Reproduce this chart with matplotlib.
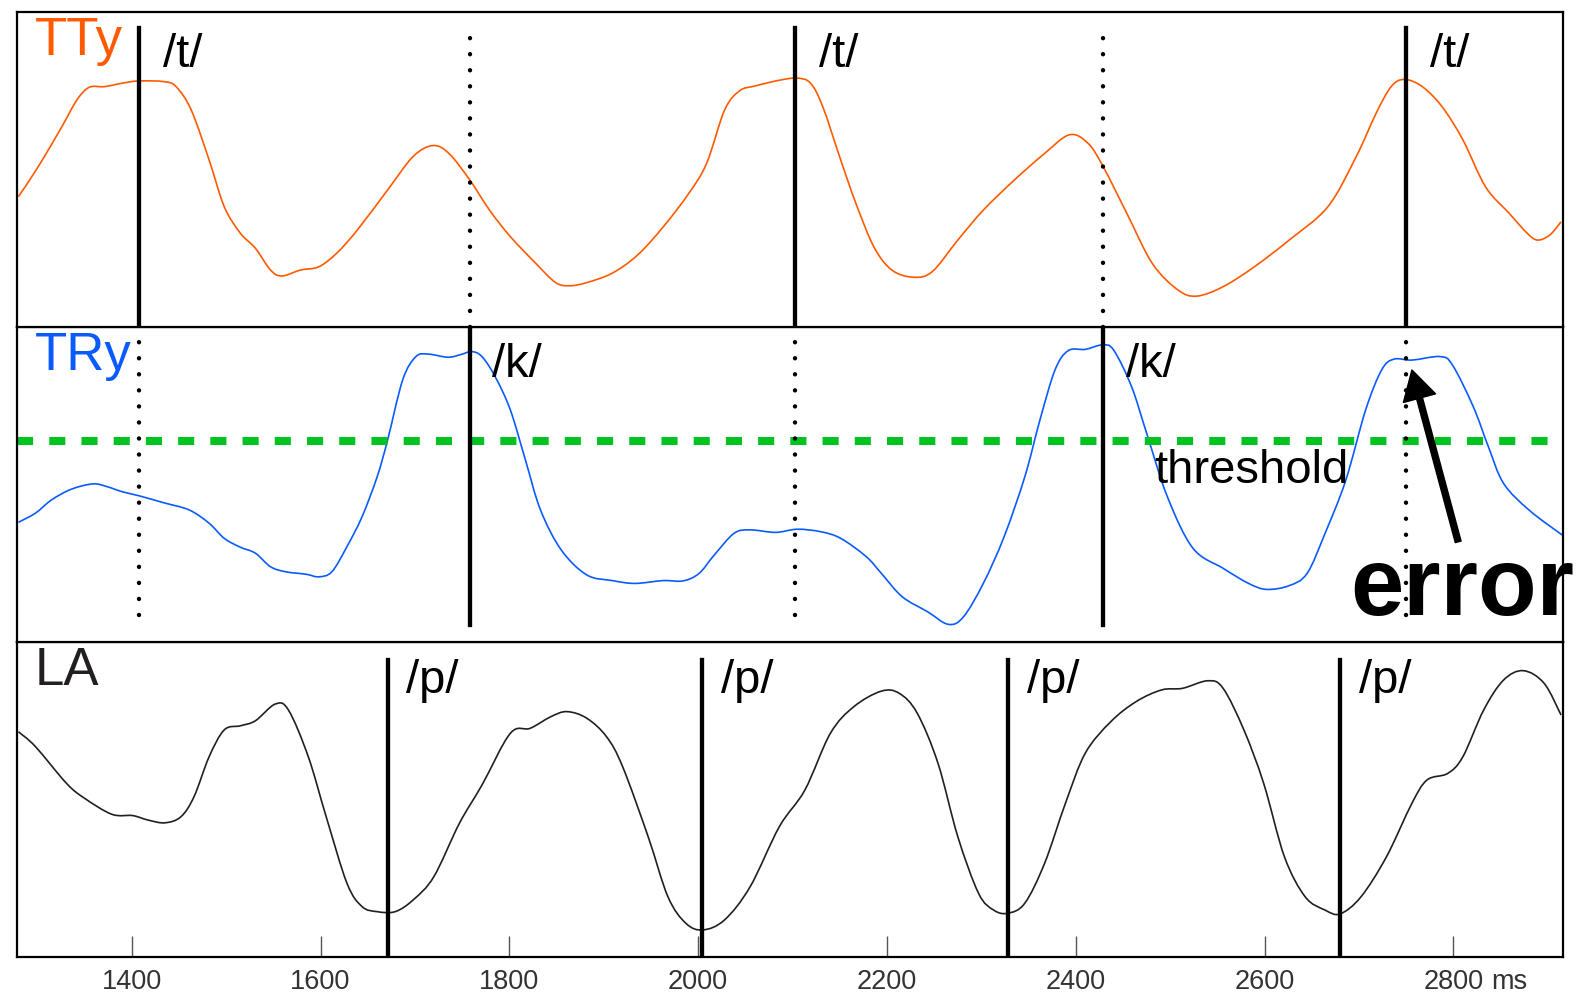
import matplotlib
matplotlib.use("Agg")
import matplotlib.pyplot as plt
from matplotlib.path import Path
from matplotlib.patches import PathPatch

plt.rcParams['font.family'] = ['Liberation Sans', 'DejaVu Sans']

# time axis (ms) and traces (0..100 = panel height)
tty_t = [1280, 1301, 1326, 1342, 1355, 1371, 1390, 1407, 1434, 1447, 1463, 1482, 1498,
         1515, 1531, 1547, 1559, 1579, 1598, 1617, 1639, 1671, 1698, 1719, 1736, 1758,
         1779, 1801, 1828, 1849, 1864, 1882, 1909, 1936, 1963, 1990, 2009, 2028, 2044,
         2060, 2087, 2105, 2119, 2132, 2151, 2167, 2186, 2205, 2228, 2248, 2275, 2302,
         2335, 2365, 2393, 2413, 2429, 2454, 2481, 2508, 2528, 2556, 2589, 2626, 2667,
         2697, 2718, 2734, 2748, 2767, 2788, 2810, 2834, 2859, 2878, 2889, 2902, 2914]
tty_v = [41.3, 50.8, 63.5, 72.0, 76.0, 76.2, 77.3, 78.0, 77.8, 76.2, 68.8, 52.9, 38.1,
         29.7, 24.9, 18.0, 16.1, 18.0, 19.0, 23.3, 30.7, 43.4, 54.0, 57.5, 55.0, 46.6,
         37.0, 28.6, 20.1, 14.0, 13.0, 14.0, 17.0, 22.8, 31.7, 42.3, 51.9, 68.8, 74.9,
         76.4, 78.3, 78.9, 77.3, 69.8, 52.9, 39.2, 25.4, 18.0, 15.7, 17.5, 27.5, 37.0,
         46.6, 54.5, 60.9, 58.2, 50.8, 36.0, 20.1, 11.7, 9.7, 12.7, 19.0, 27.5, 38.1,
         54.0, 67.7, 76.2, 78.5, 76.2, 69.8, 59.3, 44.4, 36.0, 29.7, 27.5, 29.1, 33.3]

try_t = [1280, 1298, 1315, 1336, 1359, 1374, 1390, 1408, 1434, 1461, 1482, 1498, 1515,
         1531, 1547, 1563, 1585, 1598, 1612, 1628, 1644, 1660, 1671, 1687, 1701, 1714,
         1735, 1749, 1760, 1771, 1785, 1801, 1817, 1833, 1855, 1882, 1909, 1933, 1963,
         1984, 2001, 2017, 2038, 2055, 2082, 2105, 2130, 2151, 2178, 2194, 2216, 2243,
         2265, 2281, 2302, 2324, 2346, 2362, 2378, 2392, 2410, 2428, 2440, 2459, 2475,
         2497, 2524, 2556, 2583, 2602, 2626, 2645, 2664, 2686, 2707, 2724, 2737, 2756,
         2786, 2799, 2821, 2837, 2853, 2880, 2915]
try_v = [37.9, 40.8, 45.0, 48.4, 50.1, 49.2, 47.6, 46.3, 44.1, 41.8, 37.6, 32.8, 30.0,
         28.1, 23.8, 22.2, 21.4, 20.6, 22.2, 30.2, 39.7, 52.4, 64.0, 83.1, 90.5, 91.3,
         90.3, 91.2, 92.1, 90.5, 84.1, 73.6, 57.7, 41.8, 29.1, 21.2, 19.4, 18.5, 19.4,
         19.3, 21.7, 27.5, 34.4, 35.5, 34.7, 35.7, 34.9, 32.8, 27.0, 21.7, 14.3, 9.5,
         5.5, 7.9, 18.5, 33.3, 52.4, 70.4, 86.3, 92.4, 92.8, 94.2, 92.6, 81.0, 66.2,
         46.0, 29.7, 23.3, 18.5, 16.6, 17.8, 21.7, 34.4, 51.3, 73.6, 86.3, 89.7, 89.4,
         90.5, 87.8, 74.6, 61.9, 50.3, 41.8, 33.9]

la_t = [1280, 1298, 1331, 1350, 1379, 1401, 1417, 1435, 1452, 1466, 1482, 1498, 1515,
        1531, 1552, 1566, 1587, 1606, 1628, 1644, 1660, 1679, 1698, 1720, 1747, 1771,
        1801, 1822, 1844, 1861, 1882, 1903, 1920, 1947, 1968, 1987, 2005, 2028, 2055,
        2086, 2113, 2140, 2165, 2194, 2213, 2232, 2254, 2275, 2297, 2313, 2328, 2346,
        2367, 2389, 2410, 2437, 2464, 2491, 2513, 2540, 2556, 2578, 2599, 2621, 2643,
        2664, 2680, 2702, 2729, 2756, 2772, 2794, 2810, 2832, 2853, 2874, 2896, 2914]
la_v = [71.4, 66.7, 55.0, 50.3, 45.2, 44.8, 43.4, 42.5, 44.4, 50.8, 63.5, 72.0, 73.3,
        74.9, 80.2, 78.3, 63.5, 44.4, 23.3, 15.9, 14.3, 14.3, 18.0, 25.4, 42.3, 54.5,
        70.9, 72.5, 76.2, 77.8, 75.7, 69.8, 60.3, 38.1, 19.0, 10.6, 8.5, 11.7, 22.2,
        41.3, 52.9, 70.9, 79.4, 84.3, 83.6, 77.3, 61.4, 38.1, 20.1, 14.8, 13.8, 17.0,
        29.7, 48.7, 64.6, 74.6, 81.0, 84.7, 85.2, 87.6, 85.2, 72.0, 55.0, 31.7, 19.0,
        14.8, 13.6, 19.0, 31.7, 48.7, 56.1, 58.2, 63.5, 78.3, 87.8, 90.8, 86.8, 76.7]

# gesture events (ms)
t_events = [1408, 2103, 2750]
k_events = [1758, 2429]
p_events = [1671, 2004, 2328, 2680]
threshold = 63.8

xticks = [1400, 1600, 1800, 2000, 2200, 2400, 2600, 2800]
xlim = (1279, 2916)

ORANGE = '#ff5a00'
BLUE = '#0a5bff'
GREEN = '#00c322'
DARK = '#231f20'


def smooth_trace(ax, xs, ys, color):
    # draw the trace as a smooth Bezier path through the read points
    pts = list(zip(xs, ys))
    verts = [pts[0]]
    codes = [Path.MOVETO]
    n = len(pts)
    for i in range(n - 1):
        p0 = pts[max(i - 1, 0)]
        p1 = pts[i]
        p2 = pts[i + 1]
        p3 = pts[min(i + 2, n - 1)]
        c1 = (p1[0] + (p2[0] - p0[0]) / 6, p1[1] + (p2[1] - p0[1]) / 6)
        c2 = (p2[0] - (p3[0] - p1[0]) / 6, p2[1] - (p3[1] - p1[1]) / 6)
        verts += [c1, c2, p2]
        codes += [Path.CURVE4] * 3
    ax.add_patch(PathPatch(Path(verts, codes), fill=False, edgecolor=color, lw=1.2))


fig = plt.figure(figsize=(15.83, 9.96), dpi=100)
left, width, h = 0.01105, 0.9763, 0.31627
ax_la = fig.add_axes([left, 0.03946, width, h])
ax_tr = fig.add_axes([left, 0.03946 + h, width, h])
ax_tt = fig.add_axes([left, 0.03946 + 2 * h, width, h])

solid = dict(color='black', lw=3.1)
dotted = dict(color='black', lw=3.2, linestyle=(0, (0.01, 3.6)), dash_capstyle='round')
lab = dict(fontsize=34, color='black', va='baseline')
big = dict(fontsize=38, va='baseline')

for ax in (ax_tt, ax_tr, ax_la):
    ax.set_xlim(*xlim)
    ax.set_ylim(0, 100)
    ax.set_yticks([])
    for s in ax.spines.values():
        s.set_linewidth(1.6)
        s.set_color('black')

for ax in (ax_tt, ax_tr):
    ax.set_xticks([])

# top panel: tongue tip
smooth_trace(ax_tt, tty_t, tty_v, ORANGE)
for t in t_events:
    ax_tt.axvline(t, ymin=0, ymax=0.948, **solid)
    ax_tt.text(t + 25, 0.824, '/t/', transform=ax_tt.get_xaxis_transform(), **lab)
for t in k_events:
    ax_tt.axvline(t, ymin=0, ymax=0.917, **dotted)
ax_tt.text(0.011, 0.8625, 'TTy', transform=ax_tt.transAxes, color=ORANGE, **big)

# middle panel: tongue root
smooth_trace(ax_tr, try_t, try_v, BLUE)
ax_tr.axhline(threshold, color=GREEN, lw=5.8, linestyle=(0, (2, 2)), zorder=1)
for t in k_events:
    ax_tr.axvline(t, ymin=0.053, ymax=1.0, **solid)
    ax_tr.text(t + 24, 0.840, '/k/', transform=ax_tr.get_xaxis_transform(), **lab)
for t in t_events:
    ax_tr.axvline(t, ymin=0.085, ymax=0.952, **dotted)
ax_tr.text(0.011, 0.8625, 'TRy', transform=ax_tr.transAxes, color=BLUE, **big)
ax_tr.text(2483, 0.505, 'threshold', transform=ax_tr.get_xaxis_transform(), **lab)
ax_tr.annotate('', xy=(2756, 0.8625), xytext=(2805, 0.317),
               xycoords=('data', 'axes fraction'), textcoords=('data', 'axes fraction'),
               arrowprops=dict(facecolor='black', edgecolor='black', width=4.3,
                               headwidth=24, headlength=21, shrink=0))
ax_tr.text(2691, 0.085, 'error', transform=ax_tr.get_xaxis_transform(),
           fontsize=69, fontweight='bold', va='baseline', zorder=10)

# bottom panel: lip aperture
smooth_trace(ax_la, la_t, la_v, DARK)
for t in p_events:
    ax_la.axvline(t, ymin=0, ymax=0.942, **solid)
    ax_la.text(t + 20, 0.836, '/p/', transform=ax_la.get_xaxis_transform(), **lab)
ax_la.text(0.011, 0.8625, 'LA', transform=ax_la.transAxes, color=DARK, **big)

ax_la.set_xticks(xticks)
ax_la.set_xticklabels([str(x) for x in xticks])
ax_la.tick_params(axis='x', direction='in', length=15, width=1, color='#555555',
                  labelsize=19.5, labelcolor='#333333', pad=9)
ax_la.text(2840, -0.1012, 'ms', transform=ax_la.get_xaxis_transform(),
           fontsize=19.5, color='#333333', va='baseline')

fig.savefig('out.png', dpi=100)
